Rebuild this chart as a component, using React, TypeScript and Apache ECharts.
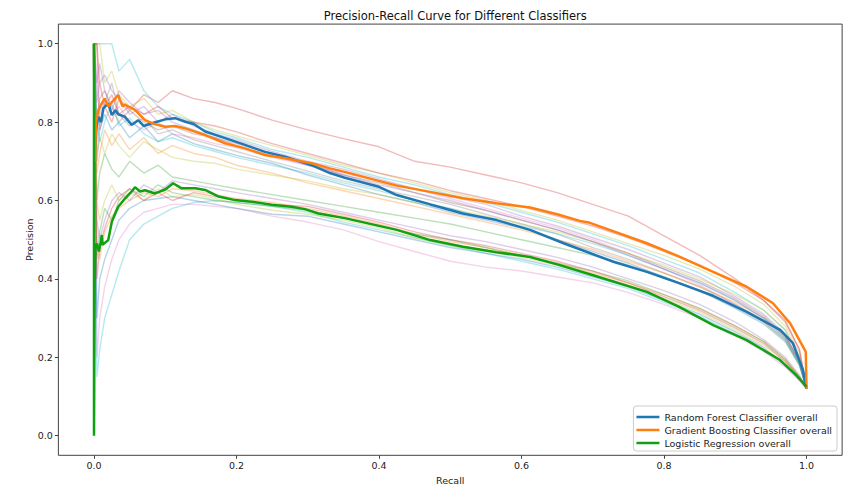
import React, { useEffect, useRef } from "react";
import * as echarts from "echarts";

const TITLE = "Precision-Recall Curve for Different Classifiers";
const X_NAME = "Recall";
const Y_NAME = "Precision";
const MAIN_NAMES = [
  "Random Forest Classifier overall",
  "Gradient Boosting Classifier overall",
  "Logistic Regression overall",
];
const MAIN_COLORS = ["#1f77b4", "#ff7f0e", "#11a011"];
const TAB10 = ["#1f77b4", "#ff7f0e", "#2ca02c", "#d62728", "#9467bd", "#8c564b", "#e377c2", "#7f7f7f", "#bcbd22", "#17becf"];

// main curves: [recall, precision]
const rfCurve: number[][] = [
  [0, 1.0], [0.001, 0.72], [0.003, 0.78], [0.006, 0.814], [0.01, 0.8], [0.013, 0.835], [0.02, 0.848],
  [0.025, 0.818], [0.03, 0.83], [0.034, 0.82], [0.043, 0.814], [0.053, 0.793], [0.062, 0.805],
  [0.07, 0.79], [0.081, 0.797], [0.1, 0.807], [0.114, 0.81], [0.128, 0.801], [0.14, 0.795],
  [0.156, 0.776], [0.184, 0.759], [0.212, 0.742], [0.24, 0.724], [0.268, 0.712], [0.3055, 0.69],
  [0.331, 0.67], [0.352, 0.658], [0.4, 0.635], [0.425, 0.614], [0.472, 0.59], [0.518, 0.567],
  [0.565, 0.55], [0.612, 0.525], [0.659, 0.491], [0.696, 0.466], [0.73, 0.443], [0.776, 0.418],
  [0.82, 0.39], [0.869, 0.357], [0.916, 0.316], [0.963, 0.27], [0.981, 0.236], [0.995, 0.168], [1.0, 0.12],
];
const gbCurve: number[][] = [
  [0, 1.0], [0.001, 0.7], [0.003, 0.8], [0.006, 0.83], [0.01, 0.845], [0.015, 0.86], [0.02, 0.84],
  [0.027, 0.855], [0.034, 0.869], [0.04, 0.84], [0.0435, 0.845], [0.05, 0.838], [0.0575, 0.831],
  [0.0716, 0.805], [0.085, 0.795], [0.1, 0.788], [0.114, 0.79], [0.128, 0.784], [0.156, 0.767],
  [0.184, 0.746], [0.212, 0.733], [0.24, 0.716], [0.268, 0.708], [0.3055, 0.695], [0.331, 0.682],
  [0.352, 0.673], [0.425, 0.638], [0.472, 0.622], [0.518, 0.606], [0.565, 0.593], [0.612, 0.582],
  [0.65, 0.565], [0.682, 0.548], [0.696, 0.543], [0.776, 0.491], [0.82, 0.458], [0.869, 0.418],
  [0.916, 0.38], [0.953, 0.338], [0.977, 0.287], [0.995, 0.227], [0.999, 0.214], [1.0, 0.12],
];
const lrCurve: number[][] = [
  [0, 1.0], [0, 0.0], [0.001, 0.4], [0.002, 0.482], [0.004, 0.49], [0.007, 0.47], [0.011, 0.512],
  [0.012, 0.487], [0.02, 0.499], [0.025, 0.546], [0.034, 0.584], [0.0435, 0.605], [0.053, 0.623],
  [0.0575, 0.634], [0.0645, 0.623], [0.0716, 0.626], [0.0856, 0.618], [0.1, 0.628], [0.111, 0.644],
  [0.123, 0.631], [0.142, 0.631], [0.156, 0.627], [0.175, 0.61], [0.198, 0.601], [0.221, 0.597],
  [0.249, 0.589], [0.277, 0.584], [0.296, 0.578], [0.315, 0.567], [0.331, 0.562], [0.352, 0.555],
  [0.425, 0.525], [0.472, 0.499], [0.518, 0.482], [0.565, 0.468], [0.612, 0.456], [0.65, 0.437],
  [0.696, 0.412], [0.776, 0.367], [0.82, 0.33], [0.869, 0.282], [0.916, 0.244], [0.963, 0.193],
  [0.985, 0.155], [1.0, 0.125],
];

// per-fold faint curves, precision values at these recall points
const foldRecall = [0, 0.004, 0.008, 0.015, 0.025, 0.035, 0.05, 0.07, 0.09, 0.11, 0.14, 0.17, 0.2, 0.25, 0.3, 0.35, 0.4, 0.45, 0.5, 0.55, 0.6, 0.65, 0.7, 0.75, 0.8, 0.85, 0.9, 0.94, 0.97, 0.99, 1.0];

const fold01 = [1.0, 1.0, 0.78, 0.84, 0.8, 0.86, 0.83, 0.87, 0.85, 0.88, 0.86, 0.85, 0.835, 0.805, 0.78, 0.758, 0.737, 0.7, 0.685, 0.665, 0.645, 0.62, 0.59, 0.56, 0.51, 0.46, 0.4, 0.345, 0.29, 0.22, 0.12];
const fold02 = [1.0, 1.0, 1.0, 1.0, 1.0, 0.93, 0.96, 0.88, 0.84, 0.82, 0.8, 0.775, 0.76, 0.73, 0.71, 0.685, 0.66, 0.64, 0.615, 0.595, 0.57, 0.545, 0.515, 0.485, 0.45, 0.415, 0.365, 0.32, 0.27, 0.2, 0.12];
const fold03 = [1.0, 1.0, 1.0, 0.9, 0.93, 0.87, 0.84, 0.86, 0.82, 0.83, 0.8, 0.78, 0.765, 0.74, 0.715, 0.69, 0.67, 0.645, 0.62, 0.6, 0.575, 0.55, 0.52, 0.49, 0.46, 0.425, 0.38, 0.335, 0.28, 0.21, 0.12];
const fold04 = [1.0, 0.85, 0.9, 0.92, 0.88, 0.86, 0.82, 0.84, 0.8, 0.82, 0.79, 0.77, 0.755, 0.725, 0.7, 0.68, 0.655, 0.63, 0.61, 0.59, 0.56, 0.535, 0.505, 0.475, 0.44, 0.405, 0.355, 0.31, 0.26, 0.19, 0.12];
const fold05 = [1.0, 0.8, 0.86, 0.88, 0.84, 0.8, 0.83, 0.8, 0.78, 0.79, 0.77, 0.76, 0.745, 0.72, 0.695, 0.665, 0.645, 0.62, 0.595, 0.575, 0.55, 0.525, 0.495, 0.465, 0.43, 0.395, 0.35, 0.305, 0.255, 0.19, 0.12];
const fold06 = [1.0, 0.9, 0.82, 0.86, 0.82, 0.84, 0.8, 0.78, 0.8, 0.77, 0.76, 0.745, 0.735, 0.71, 0.69, 0.67, 0.65, 0.63, 0.605, 0.58, 0.555, 0.53, 0.5, 0.465, 0.425, 0.385, 0.335, 0.29, 0.245, 0.185, 0.12];
const fold07 = [1.0, 0.75, 0.8, 0.85, 0.9, 0.82, 0.79, 0.81, 0.77, 0.78, 0.755, 0.74, 0.725, 0.7, 0.675, 0.65, 0.63, 0.61, 0.59, 0.565, 0.54, 0.515, 0.48, 0.45, 0.415, 0.38, 0.335, 0.295, 0.25, 0.185, 0.12];
const fold08 = [1.0, 0.7, 0.78, 0.82, 0.78, 0.8, 0.76, 0.79, 0.75, 0.77, 0.745, 0.73, 0.715, 0.695, 0.665, 0.64, 0.615, 0.595, 0.57, 0.55, 0.53, 0.5, 0.47, 0.44, 0.405, 0.37, 0.325, 0.285, 0.24, 0.18, 0.12];
const fold09 = [1.0, 0.67, 0.72, 0.78, 0.74, 0.77, 0.73, 0.76, 0.72, 0.74, 0.72, 0.71, 0.69, 0.67, 0.645, 0.625, 0.605, 0.585, 0.565, 0.545, 0.525, 0.5, 0.475, 0.445, 0.415, 0.38, 0.34, 0.3, 0.255, 0.19, 0.12];
const fold10 = [1.0, 0.6, 0.67, 0.72, 0.68, 0.66, 0.7, 0.67, 0.69, 0.66, 0.65, 0.64, 0.63, 0.615, 0.6, 0.585, 0.57, 0.555, 0.54, 0.52, 0.5, 0.48, 0.46, 0.435, 0.405, 0.37, 0.33, 0.29, 0.245, 0.18, 0.12];
const fold11 = [1.0, 1.0, 0.9, 0.84, 0.87, 0.82, 0.84, 0.82, 0.84, 0.81, 0.8, 0.79, 0.775, 0.745, 0.72, 0.695, 0.67, 0.65, 0.625, 0.605, 0.585, 0.56, 0.535, 0.505, 0.47, 0.435, 0.39, 0.345, 0.295, 0.22, 0.12];
const fold12 = [1.0, 0.72, 0.76, 0.72, 0.77, 0.74, 0.71, 0.75, 0.73, 0.71, 0.7, 0.695, 0.68, 0.665, 0.65, 0.63, 0.615, 0.595, 0.58, 0.56, 0.54, 0.52, 0.495, 0.465, 0.435, 0.4, 0.36, 0.32, 0.27, 0.2, 0.12];
const fold13 = [1.0, 0.8, 0.75, 0.8, 0.85, 0.79, 0.81, 0.77, 0.75, 0.76, 0.74, 0.725, 0.71, 0.69, 0.67, 0.645, 0.625, 0.6, 0.58, 0.555, 0.535, 0.515, 0.49, 0.46, 0.425, 0.39, 0.345, 0.3, 0.25, 0.185, 0.12];
const fold14 = [1.0, 0.9, 0.95, 0.88, 0.83, 0.88, 0.85, 0.82, 0.83, 0.8, 0.78, 0.76, 0.74, 0.715, 0.69, 0.665, 0.64, 0.62, 0.6, 0.575, 0.55, 0.525, 0.495, 0.46, 0.425, 0.39, 0.345, 0.3, 0.255, 0.19, 0.12];
const fold15 = [1.0, 0.2, 0.3, 0.38, 0.45, 0.5, 0.54, 0.57, 0.58, 0.59, 0.59, 0.585, 0.58, 0.56, 0.545, 0.525, 0.495, 0.47, 0.445, 0.43, 0.42, 0.405, 0.39, 0.365, 0.335, 0.3, 0.255, 0.215, 0.175, 0.14, 0.12];
const fold16 = [1.0, 0.15, 0.22, 0.3, 0.36, 0.42, 0.5, 0.54, 0.56, 0.58, 0.595, 0.6, 0.595, 0.585, 0.57, 0.545, 0.525, 0.505, 0.485, 0.465, 0.445, 0.425, 0.4, 0.375, 0.34, 0.305, 0.26, 0.22, 0.18, 0.145, 0.12];
const fold17 = [1.0, 0.3, 0.4, 0.45, 0.5, 0.55, 0.58, 0.6, 0.605, 0.61, 0.6, 0.59, 0.58, 0.565, 0.56, 0.54, 0.52, 0.5, 0.48, 0.465, 0.45, 0.43, 0.405, 0.38, 0.345, 0.31, 0.265, 0.225, 0.18, 0.145, 0.12];
const fold18 = [1.0, 0.5, 0.45, 0.52, 0.56, 0.58, 0.6, 0.62, 0.61, 0.63, 0.625, 0.615, 0.605, 0.595, 0.58, 0.56, 0.54, 0.515, 0.495, 0.48, 0.46, 0.44, 0.415, 0.39, 0.36, 0.325, 0.28, 0.24, 0.195, 0.15, 0.12];
const fold19 = [1.0, 0.55, 0.5, 0.55, 0.6, 0.62, 0.6, 0.64, 0.62, 0.65, 0.64, 0.63, 0.62, 0.605, 0.59, 0.57, 0.55, 0.53, 0.51, 0.495, 0.475, 0.455, 0.43, 0.4, 0.37, 0.335, 0.29, 0.245, 0.2, 0.155, 0.12];
const fold20 = [1.0, 0.45, 0.52, 0.58, 0.55, 0.6, 0.63, 0.61, 0.64, 0.62, 0.61, 0.6, 0.595, 0.585, 0.575, 0.555, 0.535, 0.515, 0.5, 0.48, 0.46, 0.44, 0.42, 0.395, 0.36, 0.325, 0.28, 0.24, 0.195, 0.15, 0.12];
const fold21 = [1.0, 0.6, 0.55, 0.6, 0.64, 0.6, 0.62, 0.6, 0.63, 0.61, 0.615, 0.605, 0.59, 0.575, 0.565, 0.55, 0.53, 0.505, 0.485, 0.47, 0.455, 0.435, 0.41, 0.385, 0.35, 0.315, 0.27, 0.23, 0.19, 0.148, 0.12];
const fold22 = [1.0, 0.4, 0.48, 0.53, 0.58, 0.61, 0.63, 0.6, 0.62, 0.6, 0.62, 0.61, 0.6, 0.59, 0.585, 0.565, 0.545, 0.52, 0.5, 0.485, 0.465, 0.445, 0.42, 0.39, 0.355, 0.32, 0.275, 0.235, 0.19, 0.15, 0.12];

const folds = [fold01, fold02, fold03, fold04, fold05, fold06, fold07, fold08, fold09, fold10, fold11, fold12, fold13, fold14, fold15, fold16, fold17, fold18, fold19, fold20, fold21, fold22];
const foldColorIdx = [3, 9, 8, 4, 5, 6, 7, 0, 1, 2, 3, 8, 9, 4, 6, 9, 0, 1, 4, 2, 8, 3];

const FONT = "DejaVu Sans";
// inner data box (0..1 on both axes); the frame is padded by 5% of the range
const GRID_L = 94;
const GRID_T = 43.7;
const GRID_W = 712.5;
const GRID_H = 392;
const PAD = 0.05;

export default function App() {
  const ref = useRef<HTMLDivElement>(null);
  useEffect(() => {
    if (!ref.current) return;
    const chart = echarts.init(ref.current, undefined, { renderer: "svg" });
    const padX = PAD * GRID_W;
    const padY = PAD * GRID_H;
    const faintSeries = folds.map((vals, k) => ({
      type: "line",
      name: "fold" + (k + 1),
      data: foldRecall.map((r, i) => [r, vals[i]]),
      showSymbol: false,
      silent: true,
      clip: false,
      z: 1,
      lineStyle: { color: TAB10[foldColorIdx[k]], width: 1.4, opacity: 0.32 },
    }));
    const mains = [rfCurve, gbCurve, lrCurve].map((d, k) => ({
      type: "line",
      name: MAIN_NAMES[k],
      data: d,
      showSymbol: false,
      clip: false,
      z: 5 + k,
      color: MAIN_COLORS[k],
      lineStyle: { color: MAIN_COLORS[k], width: 2.5 },
    }));
    const axisCommon = (name: string, gap: number, margin: number, offset: number) => ({
      type: "value",
      min: 0,
      max: 1,
      interval: 0.2,
      offset,
      name,
      nameLocation: "middle",
      nameGap: gap,
      nameMoveOverlap: false,
      nameTextStyle: { fontFamily: FONT, fontSize: 9.5, color: "#222" },
      axisLine: { show: false, onZero: false },
      axisTick: { show: true, length: 3.5, lineStyle: { color: "#444" } },
      axisLabel: { formatter: (v: number) => v.toFixed(1), margin, fontFamily: FONT, fontSize: 9.5, color: "#222" },
      splitLine: { show: false },
    });
    chart.setOption({
      animation: false,
      textStyle: { fontFamily: FONT },
      title: {
        text: TITLE,
        left: GRID_L + GRID_W / 2,
        textAlign: "center",
        top: 5,
        textStyle: { fontFamily: FONT, fontSize: 11.5, fontWeight: "normal", color: "#111" },
      },
      grid: { left: GRID_L, top: GRID_T, width: GRID_W, height: GRID_H, outerBoundsMode: "none", containLabel: false },
      graphic: [
        {
          type: "rect",
          silent: true,
          z: 0,
          shape: { x: GRID_L - padX, y: GRID_T - padY, width: GRID_W + 2 * padX, height: GRID_H + 2 * padY },
          style: { fill: "none", stroke: "#444", lineWidth: 1 },
        },
      ],
      legend: {
        data: MAIN_NAMES,
        orient: "vertical",
        right: 12,
        bottom: 34,
        icon: "rect",
        itemWidth: 23,
        itemHeight: 2.5,
        itemGap: 3,
        padding: [6, 5, 3, 3],
        borderColor: "#ccc",
        borderWidth: 1,
        borderRadius: 3,
        backgroundColor: "rgba(255,255,255,0.85)",
        textStyle: { fontFamily: FONT, fontSize: 9.5, color: "#222" },
      },
      xAxis: axisCommon(X_NAME, 20, 5, padY),
      yAxis: axisCommon(Y_NAME, 24, 5.5, padX),
      series: [...faintSeries, ...mains],
    });
    return () => chart.dispose();
  }, []);
  return <div ref={ref} style={{ position: "fixed", left: 0, top: 0, width: 849, height: 485, background: "#fff" }} />;
}
